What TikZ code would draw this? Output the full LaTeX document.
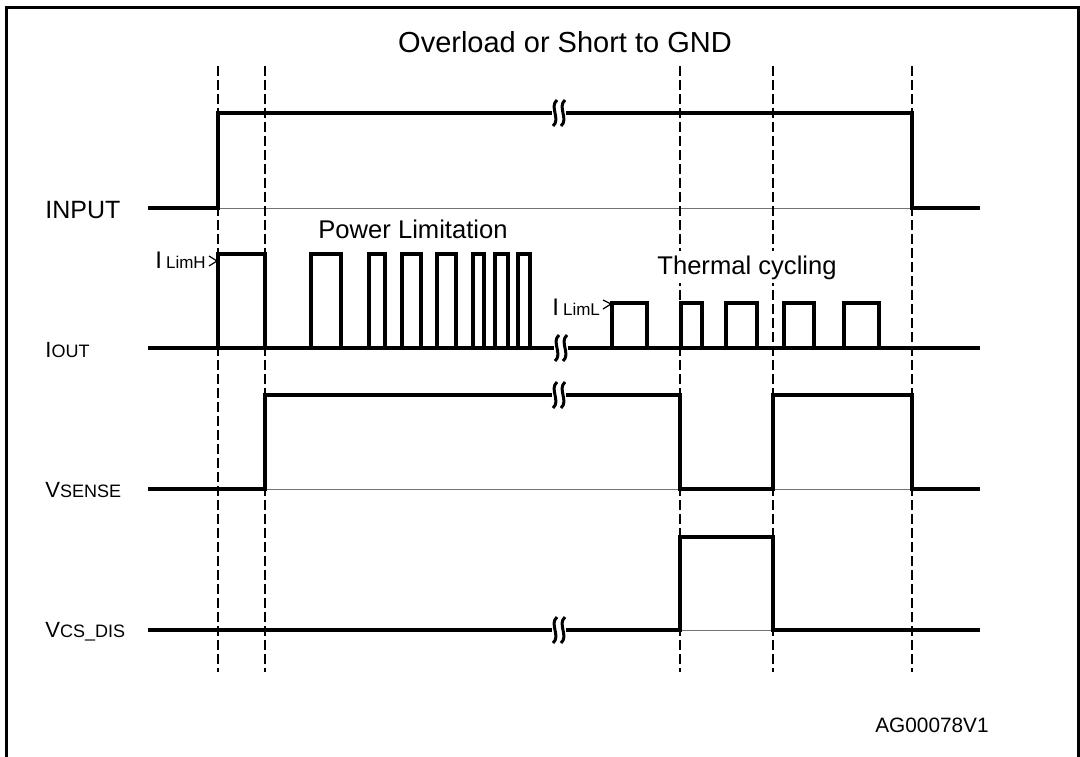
\documentclass[tikz,border=0pt]{standalone}
\usepackage{fontspec}
\setmainfont{Liberation Sans}
\usetikzlibrary{positioning}
\newcommand{\fsz}[1]{\fontsize{#1}{#1}\selectfont}
\newcommand{\gapmark}[2]{%
  \fill[white] (#1-7,#2-5) rectangle (#1+7,#2+5);
  \draw[line width=1.5pt] (#1-2,#2-13) .. controls (#1-10,#2-6) and (#1+2,#2+6) .. (#1-6,#2+13);
  \draw[line width=1.5pt] (#1+6,#2-13) .. controls (#1-2,#2-6) and (#1+10,#2+6) .. (#1+2,#2+13);
}
\tikzset{
  sig/.style={line width=1.9pt},
  base/.style={line width=0.5pt, black!55},
  guide/.style={line width=0.65pt, dash pattern=on 5pt off 2pt},
  lbl/.style={inner sep=0pt, anchor=base west},
  txt/.style={inner sep=0pt, anchor=base},
}
\begin{document}
\begin{tikzpicture}[x=0.5pt, y=-0.5pt]
  \useasboundingbox (0,0) rectangle (1080,756);
  \fill[white] (0,0) rectangle (1080,756);
  % frame, open at the bottom
  \draw[line width=1.5pt] (6,770) -- (6,7) -- (1078,7) -- (1078,770);

  \node (title) at (565,42) {\fsz{14.5}Overload or Short to GND};

  % thin baselines
  \foreach \y in {208,348,489,630}
    \draw[base] (148,\y) -- (980,\y);

  % time markers
  \foreach \x in {218,265,680,773,912}
    \draw[guide] (\x,66) -- (\x,672);

  % INPUT
  \draw[sig] (148,208) -- (218,208) -- (218,113) -- (912,113) -- (912,208) -- (980,208);
  \gapmark{559}{113}

  % IOUT
  \draw[sig] (148,348) -- (980,348);
  \foreach \a/\b/\h in {218/265/254, 311/341/254, 369/385/254, 402/421/254,
      437/456/254, 473/484/254, 495/508/254, 518/530/254,
      612/647/303, 681/702/303, 726/757/303, 784/814/303, 844/879/303}
    \draw[sig] (\a,348) |- (\b,\h) -- (\b,348);
  \gapmark{561}{348}

  % VSENSE
  \draw[sig] (148,489) -- (265,489) -- (265,395) -- (680,395) -- (680,489)
    -- (773,489) -- (773,395) -- (912,395) -- (912,489) -- (980,489);
  \gapmark{559}{395}

  % VCS_DIS
  \draw[sig] (148,630) -- (680,630) -- (680,537) -- (773,537) -- (773,630) -- (980,630);
  \gapmark{559}{630}

  % signal names
  \node[lbl] (input) at (45,218) {\fsz{12.5}INPUT};
  \node[lbl] (iout) at (45,357) {\fsz{11}I{\fsz{9}OUT}};
  \node[lbl] (vsense) at (45,497) {\fsz{11}V{\fsz{9}SENSE}};
  \node[lbl] (vcsdis) at (45,637) {\fsz{11}V{\fsz{9}CS\_DIS}};

  % limits
  \node[lbl] (limh) at (155,268) {\fsz{12}I\,{\fsz{8.5}LimH}};
  \draw[line width=0.6pt] (209,256) -- (217,261) -- (209,266);
  \node[lbl] (liml) at (552,315) {\fsz{12}I\,{\fsz{8.5}LimL}};
  \draw[line width=0.6pt] (603,300) -- (611,304) -- (603,309);

  \node[txt] (plim) at (413,238) {\fsz{12.8}Power Limitation};
  \node[txt, fill=white, inner sep=2pt] (therm) at (747,274) {\fsz{12.8}Thermal cycling};
  \node[txt] (code) at (932,732) {\fsz{10.4}AG00078V1};
\end{tikzpicture}
\end{document}
